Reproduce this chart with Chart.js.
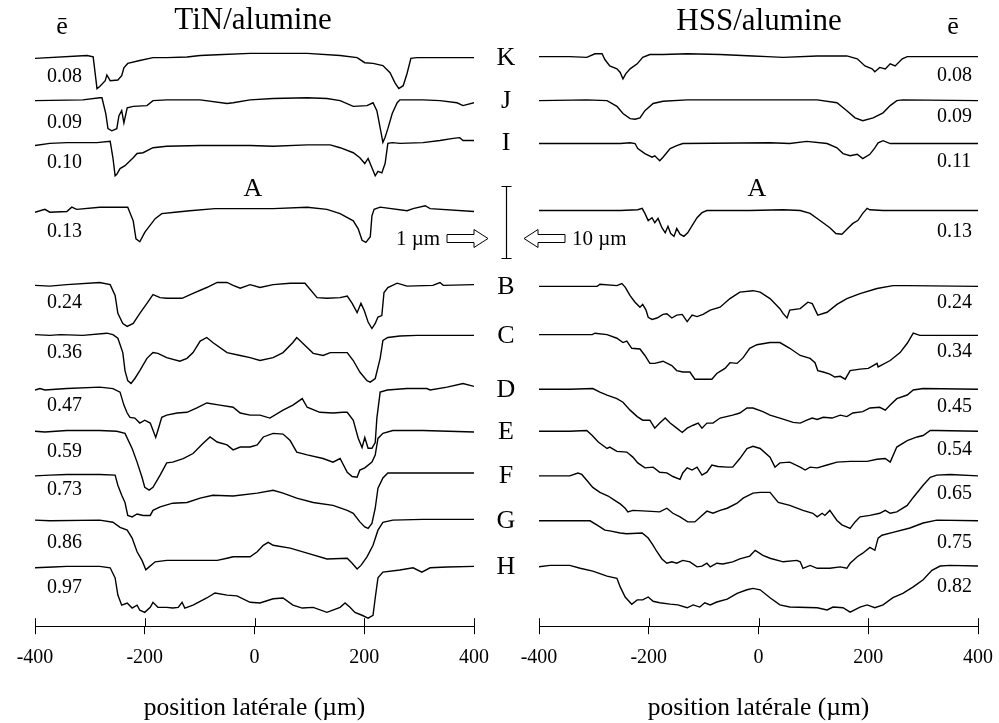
<!DOCTYPE html>
<html><head><meta charset="utf-8">
<script src="https://cdn.jsdelivr.net/npm/chart.js@4/dist/chart.umd.min.js"></script>
<style>
html,body{margin:0;padding:0;background:#fff;}
#wrap{position:relative;width:999px;height:723px;overflow:hidden;font-family:"Liberation Serif","Times New Roman",serif;color:#000;}
canvas{position:absolute;left:0;top:0;}
.t{position:absolute;white-space:nowrap;line-height:1;}
.c{transform:translateX(-50%);}
.n{font-size:20px;}
.L{font-size:26px;}
</style></head>
<body><div id="wrap">
<canvas id="cl" width="999" height="723"></canvas>
<canvas id="cr" width="999" height="723"></canvas>

<div class="t c" style="left:62px;top:13px;font-size:26px;">ē</div>
<div class="t c" style="left:953px;top:13px;font-size:26px;">ē</div>
<div class="t c" style="left:253px;top:3px;font-size:31px;">TiN/alumine</div>
<div class="t c" style="left:759px;top:4px;font-size:31px;">HSS/alumine</div>
<div class="t c" style="left:253px;top:175px;font-size:26px;">A</div>
<div class="t c" style="left:757px;top:175px;font-size:26px;">A</div>
<div class="t" style="left:396px;top:228px;font-size:21px;">1 µm</div>
<div class="t" style="left:572px;top:228px;font-size:21px;">10 µm</div>
<div id="letters"></div>
<div id="numsL"></div>
<div id="numsR"></div>
</div>
<script>
// ---- trace labels and mean values (ē) ----
const traceNames = ['K','J','I','A','B','C','D','E','F','G','H'];
const eLeft  = ['0.08','0.09','0.10','0.13','0.24','0.36','0.47','0.59','0.73','0.86','0.97'];
const eRight = ['0.08','0.09','0.11','0.13','0.24','0.34','0.45','0.54','0.65','0.75','0.82'];
const xTicks = [-400,-200,0,200,400];

// vertical shift applied to each profile (µm; left scale 1 µm bar, right scale 10 µm bar)
const LEFT_OFFSETS_UM  = [-0.792,-1.389,-2.014,-2.931,-3.958,-4.653,-5.403,-5.986,-6.597,-7.222,-7.875];
const RIGHT_OFFSETS_UM = [-7.78,-13.89,-19.86,-29.17,-39.72,-46.53,-54.03,-59.86,-65.97,-72.22,-78.61];

// ---- TiN/alumine profiles: [lateral position µm, height µm] ----
const leftK = [[-400,-0.01],[-305,0.03],[-294,0.01],[-287,-0.43],[-282,-0.40],[-272,-0.32],[-269,-0.24],[-263,-0.32],[-249,-0.31],[-242,-0.25],[-238,-0.14],[-231,-0.08],[-209,-0.04],[-185,0],[-160,0],[-123,0.01],[-99,0.03],[-68,0.04],[-8,0.06],[34,0.06],[96,0.06],[156,0.03],[187,0],[201,-0.07],[216,-0.08],[234,-0.11],[247,-0.21],[256,-0.35],[263,-0.43],[271,-0.39],[278,-0.22],[285,-0.01],[296,0],[338,0],[369,0],[400,0]];
const leftJ = [[-400,0],[-313,0.01],[-282,0.04],[-278,0.04],[-271,-0.18],[-267,-0.39],[-260,-0.42],[-251,-0.39],[-247,-0.21],[-242,-0.14],[-238,-0.31],[-232,-0.10],[-221,-0.08],[-196,-0.07],[-185,0],[-160,0.01],[-99,0.01],[-50,-0.04],[-39,-0.03],[-8,0.01],[34,0.03],[96,0.04],[132,0.03],[156,0],[180,-0.08],[205,-0.07],[216,-0.03],[223,-0.14],[229,-0.38],[234,-0.58],[238,-0.51],[243,-0.39],[251,-0.18],[260,-0.03],[265,0.01],[307,0.01],[338,0],[369,-0.03],[380,-0.07],[400,-0.03]];
const leftI = [[-400,0],[-373,0.03],[-342,0.04],[-287,0.04],[-263,0.06],[-258,-0.17],[-254,-0.42],[-251,-0.40],[-245,-0.32],[-236,-0.28],[-221,-0.17],[-214,-0.11],[-203,-0.10],[-185,-0.03],[-160,-0.01],[-99,0],[-8,0],[34,-0.01],[96,0.01],[138,0.01],[156,-0.03],[180,-0.10],[192,-0.17],[201,-0.25],[207,-0.18],[214,-0.31],[220,-0.42],[225,-0.36],[232,-0.38],[238,-0.25],[243,0.03],[251,0.04],[265,0.03],[307,0.04],[338,0.07],[362,0.10],[374,0.11],[380,0.07],[400,0.07]];
const leftA = [[-400,-0.01],[-382,0.03],[-373,-0.01],[-342,0],[-333,0.06],[-324,0.03],[-282,0.06],[-231,0.06],[-221,-0.13],[-216,-0.38],[-209,-0.42],[-200,-0.29],[-190,-0.19],[-181,-0.10],[-169,-0.03],[-145,-0.01],[-118,0.01],[-72,0.04],[-8,0.04],[34,0.04],[96,0.06],[132,0.03],[156,-0.03],[180,-0.13],[189,-0.24],[196,-0.40],[203,-0.43],[211,-0.35],[214,-0.06],[218,0.03],[229,0.06],[278,0.01],[289,0.04],[311,0.08],[320,0.04],[400,0]];
const leftB = [[-400,0],[-373,-0.01],[-342,0.01],[-282,0.04],[-263,0.01],[-254,-0.14],[-249,-0.39],[-240,-0.53],[-232,-0.57],[-221,-0.53],[-209,-0.39],[-196,-0.25],[-185,-0.13],[-172,-0.17],[-160,-0.18],[-132,-0.18],[-112,-0.11],[-87,-0.03],[-68,0.04],[-50,0.04],[-39,0],[-26,-0.04],[-8,0.01],[10,-0.03],[34,0.01],[65,0.03],[92,0.03],[114,-0.17],[132,-0.18],[156,-0.17],[169,-0.15],[178,-0.25],[187,-0.38],[194,-0.25],[200,-0.35],[207,-0.51],[214,-0.60],[220,-0.53],[225,-0.44],[232,-0.42],[236,-0.10],[243,-0.03],[260,0.03],[278,-0.01],[325,0],[338,0.04],[344,0],[400,0.01]];
const leftC = [[-400,0.01],[-373,0],[-354,0.01],[-313,0],[-269,0.03],[-258,0.01],[-249,-0.04],[-240,-0.24],[-236,-0.49],[-231,-0.63],[-225,-0.67],[-218,-0.60],[-209,-0.49],[-196,-0.32],[-185,-0.24],[-176,-0.25],[-160,-0.31],[-136,-0.36],[-123,-0.32],[-112,-0.24],[-99,-0.08],[-87,-0.03],[-76,-0.10],[-50,-0.24],[-26,-0.28],[-8,-0.31],[10,-0.35],[34,-0.31],[52,-0.24],[70,-0.10],[77,-0.03],[96,-0.17],[107,-0.25],[125,-0.28],[138,-0.24],[169,-0.24],[180,-0.35],[192,-0.51],[205,-0.63],[211,-0.65],[220,-0.60],[229,-0.32],[234,-0.07],[243,-0.03],[265,-0.01],[296,0],[400,0]];
const leftD = [[-400,-0.01],[-391,0.01],[-382,-0.01],[-342,0.01],[-282,0.03],[-258,0.01],[-245,-0.04],[-238,-0.22],[-232,-0.33],[-227,-0.39],[-218,-0.40],[-209,-0.47],[-200,-0.43],[-190,-0.47],[-180,-0.67],[-176,-0.57],[-169,-0.39],[-160,-0.36],[-141,-0.33],[-123,-0.32],[-105,-0.26],[-87,-0.19],[-63,-0.22],[-39,-0.25],[-26,-0.33],[-8,-0.36],[10,-0.36],[28,-0.40],[52,-0.29],[70,-0.22],[87,-0.13],[96,-0.25],[119,-0.32],[143,-0.33],[161,-0.32],[169,-0.32],[180,-0.43],[189,-0.68],[196,-0.81],[201,-0.67],[207,-0.82],[214,-0.82],[220,-0.74],[223,-0.40],[229,-0.04],[242,-0.01],[278,0.01],[314,0.01],[320,-0.01],[351,0.03],[380,0.08],[400,0.04]];
const leftE = [[-400,0],[-382,-0.01],[-342,0.01],[-282,0.01],[-251,0],[-236,-0.03],[-223,-0.24],[-214,-0.43],[-205,-0.64],[-200,-0.78],[-192,-0.82],[-185,-0.78],[-172,-0.61],[-160,-0.44],[-149,-0.43],[-130,-0.38],[-112,-0.31],[-94,-0.17],[-81,-0.08],[-68,-0.15],[-50,-0.19],[-39,-0.26],[-26,-0.22],[-8,-0.22],[5,-0.19],[16,-0.08],[34,-0.03],[52,-0.04],[65,-0.13],[77,-0.29],[96,-0.33],[125,-0.38],[143,-0.43],[156,-0.38],[169,-0.57],[178,-0.63],[187,-0.64],[192,-0.54],[201,-0.51],[214,-0.43],[220,-0.33],[225,-0.10],[234,-0.03],[252,0.01],[307,0.01],[400,-0.01]];
const leftF = [[-400,-0.01],[-373,0],[-342,0.01],[-282,0.01],[-254,0],[-249,-0.14],[-242,-0.28],[-236,-0.38],[-231,-0.56],[-223,-0.58],[-214,-0.54],[-203,-0.56],[-190,-0.56],[-185,-0.49],[-172,-0.44],[-149,-0.39],[-123,-0.38],[-99,-0.32],[-76,-0.28],[-39,-0.29],[5,-0.25],[34,-0.21],[52,-0.25],[77,-0.32],[107,-0.38],[143,-0.42],[169,-0.49],[180,-0.53],[192,-0.65],[201,-0.72],[207,-0.74],[214,-0.67],[220,-0.46],[225,-0.18],[234,-0.04],[243,0.03],[400,0.03]];
const leftG = [[-400,0],[-373,-0.01],[-282,0],[-258,-0.03],[-245,-0.10],[-232,-0.14],[-223,-0.25],[-214,-0.44],[-205,-0.56],[-198,-0.69],[-192,-0.65],[-181,-0.58],[-160,-0.56],[-130,-0.56],[-68,-0.56],[-50,-0.53],[-39,-0.51],[-8,-0.51],[5,-0.44],[16,-0.35],[25,-0.31],[34,-0.35],[65,-0.39],[96,-0.46],[132,-0.54],[169,-0.53],[178,-0.60],[187,-0.68],[194,-0.63],[205,-0.51],[216,-0.35],[225,-0.14],[234,-0.03],[252,0],[307,0.01],[400,0.01]];
const leftH = [[-400,-0.01],[-367,0],[-342,0.01],[-282,0.01],[-263,-0.01],[-254,-0.15],[-249,-0.39],[-242,-0.53],[-232,-0.50],[-223,-0.57],[-214,-0.53],[-209,-0.60],[-200,-0.63],[-190,-0.56],[-185,-0.49],[-176,-0.56],[-160,-0.56],[-149,-0.57],[-139,-0.56],[-132,-0.49],[-127,-0.57],[-112,-0.53],[-87,-0.43],[-72,-0.36],[-50,-0.39],[-32,-0.40],[-8,-0.49],[10,-0.50],[34,-0.44],[52,-0.43],[70,-0.53],[87,-0.57],[107,-0.56],[132,-0.63],[156,-0.56],[165,-0.50],[174,-0.56],[183,-0.63],[196,-0.67],[207,-0.71],[216,-0.67],[220,-0.43],[225,-0.15],[234,-0.07],[265,-0.04],[289,-0.01],[305,-0.07],[320,-0.01],[351,0],[400,0.01]];

// ---- HSS/alumine profiles: [lateral position µm, height µm] ----
const rightK = [[-400,0],[-344,0],[-313,-0.1],[-298,0.4],[-285,0.4],[-280,-0.4],[-271,-1.3],[-258,-1.7],[-252,-2.2],[-247,-3.1],[-242,-2.4],[-234,-1.7],[-221,-1.0],[-211,-0.1],[-198,0.3],[-174,0.3],[-130,0.4],[-70,0.3],[-10,0.1],[16,0],[45,-0.1],[107,0.1],[161,0.1],[180,-0.3],[194,-1.3],[207,-1.7],[212,-2.1],[221,-1.5],[231,-1.7],[240,-1.0],[249,-1.3],[262,-0.3],[271,0],[400,0]];
const rightJ = [[-400,0],[-313,0.1],[-276,0],[-258,-0.8],[-247,-1.8],[-234,-2.5],[-225,-2.6],[-216,-2.4],[-207,-1.4],[-192,-0.4],[-174,-0.1],[-130,0.1],[-70,0.1],[107,0.1],[143,-0.3],[161,-1.4],[176,-2.4],[190,-2.8],[209,-2.4],[227,-1.7],[240,-0.7],[252,0],[263,0.1],[400,0]];
const rightI = [[-400,0],[-252,0],[-234,0.1],[-225,0],[-220,-0.7],[-207,-1.4],[-194,-1.9],[-189,-1.7],[-180,-2.4],[-174,-1.9],[-161,-0.7],[-149,-0.3],[-138,0],[21,0.1],[57,0],[88,0.3],[125,0],[143,-0.6],[154,-1.4],[167,-1.7],[180,-1.5],[190,-2.1],[203,-1.5],[212,-0.6],[218,0.1],[227,0.4],[240,0],[400,0]];
const rightA = [[-400,0],[-252,0],[-220,0.1],[-212,0.3],[-207,-0.4],[-201,-1.4],[-194,-1.0],[-189,-1.7],[-183,-1.1],[-176,-2.4],[-170,-3.1],[-165,-2.2],[-160,-3.2],[-154,-3.6],[-149,-2.5],[-143,-3.3],[-136,-3.6],[-129,-3.1],[-121,-2.1],[-112,-1.0],[-103,-0.3],[-94,0],[-16,0],[45,0.1],[76,0],[94,-0.4],[112,-1.4],[130,-2.4],[141,-3.2],[152,-3.3],[161,-2.6],[172,-1.8],[181,-1.4],[190,-0.4],[198,0.3],[203,0.1],[227,0],[400,0]];
const rightB = [[-400,0],[-294,0],[-289,0.3],[-258,0.1],[-249,0.4],[-243,-0.1],[-234,-1.3],[-225,-2.2],[-216,-2.9],[-211,-2.5],[-205,-3.3],[-201,-4.3],[-194,-4.6],[-185,-4.4],[-174,-3.9],[-167,-3.8],[-158,-4.4],[-149,-4.0],[-139,-3.9],[-130,-4.9],[-121,-4.0],[-112,-4.2],[-101,-3.9],[-88,-3.3],[-70,-2.9],[-52,-1.7],[-34,-0.8],[-10,-0.6],[3,-0.8],[21,-1.7],[39,-3.1],[45,-3.8],[52,-4.4],[57,-3.3],[76,-3.1],[90,-2.2],[98,-2.4],[108,-4.0],[125,-3.6],[143,-2.5],[161,-1.7],[185,-1.0],[216,-0.3],[245,0.1],[271,0.1],[400,0]];
const rightC = [[-400,0.1],[-303,0.1],[-298,0.3],[-276,0.1],[-258,-0.4],[-247,-1.0],[-240,-0.8],[-231,-1.8],[-216,-1.9],[-207,-2.8],[-198,-3.9],[-189,-3.9],[-174,-3.6],[-158,-4.2],[-149,-4.9],[-138,-5.1],[-125,-5.1],[-116,-6.1],[-85,-6.1],[-76,-5.3],[-70,-5.0],[-61,-4.6],[-52,-3.8],[-39,-3.9],[-28,-3.1],[-16,-1.8],[-3,-1.3],[21,-1.0],[39,-1.0],[57,-1.8],[76,-2.8],[94,-3.2],[103,-3.8],[108,-4.9],[118,-5.1],[130,-5.4],[139,-5.8],[149,-5.7],[158,-6.1],[167,-4.9],[185,-4.7],[200,-4.6],[209,-4.2],[216,-3.9],[218,-4.4],[240,-3.5],[258,-2.4],[271,-1.1],[282,0.3],[294,0],[400,0]];
const rightD = [[-400,0],[-344,0],[-302,0.1],[-289,-0.4],[-276,-0.8],[-258,-1.3],[-247,-1.8],[-234,-2.9],[-221,-3.8],[-211,-4.3],[-198,-4.3],[-189,-5.4],[-180,-4.7],[-170,-4.0],[-161,-4.7],[-149,-5.4],[-139,-6.0],[-130,-5.4],[-119,-5.0],[-110,-4.7],[-103,-5.4],[-94,-4.7],[-83,-4.7],[-70,-4.0],[-47,-3.6],[-34,-3.3],[-21,-2.6],[-10,-2.6],[8,-3.1],[21,-3.6],[39,-4.0],[63,-4.6],[76,-4.7],[88,-4.3],[98,-4.0],[107,-4.2],[118,-3.9],[134,-4.0],[149,-3.6],[161,-3.8],[172,-3.3],[190,-3.1],[203,-2.6],[221,-2.5],[231,-2.9],[240,-2.2],[252,-1.3],[271,-0.8],[282,-0.1],[300,0.1],[400,0]];
const rightE = [[-400,0],[-344,0],[-313,0.1],[-303,-0.6],[-292,-1.5],[-276,-2.4],[-271,-2.2],[-258,-2.8],[-240,-2.9],[-229,-3.6],[-220,-4.4],[-207,-5.1],[-192,-5.0],[-180,-5.7],[-167,-5.8],[-156,-6.3],[-143,-6.7],[-138,-5.8],[-130,-5.1],[-121,-5.4],[-112,-5.0],[-103,-6.1],[-94,-5.7],[-85,-4.7],[-74,-4.9],[-57,-5.0],[-47,-5.0],[-34,-3.8],[-21,-2.4],[-10,-2.1],[3,-2.4],[21,-3.6],[30,-5.0],[39,-4.4],[57,-4.3],[76,-5.0],[85,-5.4],[94,-5.0],[107,-5.1],[125,-4.7],[143,-4.3],[167,-4.2],[198,-4.2],[216,-3.9],[231,-3.8],[240,-4.3],[252,-2.2],[271,-1.3],[289,-0.8],[300,-0.6],[313,0.1],[325,0.1],[400,0]];
const rightF = [[-400,-0.1],[-344,-0.1],[-329,0.3],[-322,0.1],[-313,-0.7],[-302,-1.7],[-289,-2.4],[-274,-2.9],[-262,-3.5],[-252,-4.0],[-243,-4.6],[-238,-5.1],[-229,-4.9],[-203,-5.0],[-180,-5.1],[-167,-4.6],[-156,-5.3],[-143,-5.8],[-129,-6.5],[-116,-6.5],[-103,-5.6],[-94,-5.0],[-83,-5.3],[-70,-4.9],[-57,-4.6],[-39,-3.9],[-28,-3.2],[-10,-2.5],[3,-2.4],[21,-2.4],[36,-3.8],[57,-4.2],[81,-4.9],[99,-5.3],[107,-5.8],[116,-5.3],[121,-5.6],[130,-4.9],[143,-6.3],[152,-6.9],[167,-7.4],[176,-6.5],[185,-5.8],[203,-5.6],[221,-5.3],[231,-4.9],[240,-5.3],[252,-5.1],[271,-4.2],[282,-3.1],[300,-1.4],[313,-0.3],[325,0],[349,0.1],[400,-0.1]];
const rightG = [[-400,-0.1],[-307,-0.1],[-294,-0.7],[-280,-1.4],[-271,-1.5],[-252,-1.8],[-240,-1.9],[-212,-1.8],[-201,-2.5],[-192,-3.5],[-185,-4.4],[-176,-5.4],[-167,-6.0],[-158,-5.8],[-149,-6.0],[-138,-5.6],[-125,-5.8],[-112,-6.5],[-103,-6.4],[-94,-6.0],[-88,-6.5],[-76,-6.0],[-65,-6.1],[-47,-5.8],[-34,-5.4],[-16,-5.0],[-6,-4.2],[8,-4.9],[21,-5.3],[45,-5.8],[70,-5.6],[76,-5.8],[81,-6.7],[94,-6.3],[107,-6.7],[130,-6.7],[149,-6.5],[161,-6.7],[167,-6.0],[180,-5.1],[190,-4.6],[203,-3.8],[212,-4.2],[218,-2.5],[225,-2.1],[245,-1.7],[276,-1.1],[300,-0.4],[325,0],[400,-0.1]];
const rightH = [[-400,-0.1],[-380,0.1],[-344,0.1],[-325,-0.3],[-302,-0.7],[-276,-1.4],[-258,-1.7],[-252,-2.9],[-243,-4.3],[-231,-5.3],[-221,-4.7],[-211,-4.7],[-201,-4.3],[-192,-4.9],[-180,-5.1],[-161,-5.3],[-147,-5.4],[-130,-5.8],[-119,-5.4],[-107,-5.7],[-98,-5.1],[-88,-5.4],[-76,-5.0],[-57,-4.6],[-39,-3.8],[-21,-3.3],[-10,-3.1],[3,-3.3],[21,-4.4],[39,-5.4],[57,-5.7],[107,-5.8],[125,-6.1],[136,-5.7],[154,-5.8],[167,-6.4],[185,-5.7],[198,-5.4],[212,-5.8],[227,-5.4],[245,-4.4],[263,-3.8],[282,-2.9],[300,-1.9],[316,-0.6],[331,0],[349,0.1],[400,0]];

const leftProfiles  = [leftK,leftJ,leftI,leftA,leftB,leftC,leftD,leftE,leftF,leftG,leftH];
const rightProfiles = [rightK,rightJ,rightI,rightA,rightB,rightC,rightD,rightE,rightF,rightG,rightH];

// ---------- text labels ----------
const FONT = '"Liberation Serif","Times New Roman",serif';
const letterTops = [44,87,129,null,273,322,376,418,462,507,553];
const numLTops = [65,111,151,220,291,341,394,440,478,531,576];
const numRTops = [64,105,150,220,291,340,395,438,482,531,575];
const lettersDiv = document.getElementById('letters');
traceNames.forEach((n,i)=>{ if(letterTops[i]===null) return;
  const d=document.createElement('div'); d.className='t c L'; d.style.left='506px'; d.style.top=letterTops[i]+'px'; d.textContent=n; lettersDiv.appendChild(d);});
eLeft.forEach((v,i)=>{const d=document.createElement('div'); d.className='t n'; d.style.left='47px'; d.style.top=numLTops[i]+'px'; d.textContent=v; document.getElementById('numsL').appendChild(d);});
eRight.forEach((v,i)=>{const d=document.createElement('div'); d.className='t n'; d.style.left='937px'; d.style.top=numRTops[i]+'px'; d.textContent=v; document.getElementById('numsR').appendChild(d);});

// ---------- plugins ----------
const crossTicks = { id:'crossTicks', afterDraw(chart){
  const {ctx, scales:{x}, chartArea} = chart;
  ctx.save(); ctx.strokeStyle='#000'; ctx.lineWidth=1;
  x.ticks.forEach(t=>{ const px=Math.round(x.getPixelForValue(t.value))+0.5;
    ctx.beginPath(); ctx.moveTo(px, chartArea.bottom-8); ctx.lineTo(px, chartArea.bottom); ctx.stroke(); });
  ctx.restore(); } };

function arrow(ctx, xTail, xHead, y){
  const dir = Math.sign(xHead-xTail), hl=14, sh=4, hh=9;
  const xb = xHead - dir*hl;
  ctx.beginPath();
  ctx.moveTo(xTail, y-sh); ctx.lineTo(xb, y-sh); ctx.lineTo(xb, y-hh); ctx.lineTo(xHead, y);
  ctx.lineTo(xb, y+hh); ctx.lineTo(xb, y+sh); ctx.lineTo(xTail, y+sh); ctx.closePath();
  ctx.fillStyle='#fff'; ctx.fill(); ctx.stroke();
}
const SCALE_BAR_TOP_UM = -2.583; // top of the 1 µm (left) / 10 µm (right) scale bar
const scaleBar = { id:'scaleBar', afterDraw(chart){
  const {ctx, scales:{y}} = chart;
  const t=Math.round(y.getPixelForValue(SCALE_BAR_TOP_UM))+0.5, b=Math.round(y.getPixelForValue(SCALE_BAR_TOP_UM-1))+0.5;
  const xc=506.5;
  ctx.save(); ctx.strokeStyle='#000'; ctx.lineWidth=1.2;
  ctx.beginPath(); ctx.moveTo(xc,t); ctx.lineTo(xc,b); ctx.moveTo(xc-5,t); ctx.lineTo(xc+5,t); ctx.moveTo(xc-5,b); ctx.lineTo(xc+5,b); ctx.stroke();
  ctx.lineWidth=1;
  arrow(ctx, 447, 488, 238.5);
  arrow(ctx, 565, 524, 238.5);
  ctx.restore(); } };

function makeChart(id, profiles, offsets, umPerPx, padL, padR, extra){
  const datasets = profiles.map((p,i)=>({
    label: traceNames[i],
    data: p.map(([x,h])=>({x, y: offsets[i]+h})),
    borderColor:'#000', borderWidth:1.4, pointRadius:0, tension:0, fill:false
  }));
  const chart = new Chart(document.getElementById(id), {
    type:'line',
    data:{datasets},
    options:{
      responsive:false, animation:false, devicePixelRatio:1,
      layout:{padding:{left:padL,right:padR,top:0,bottom:0}},
      plugins:{legend:{display:false}, tooltip:{enabled:false}},
      scales:{
        x:{type:'linear', min:-400, max:400,
           afterBuildTicks(s){ s.ticks = xTicks.map(v=>({value:v})); },
           ticks:{ color:'#000', font:{family:FONT,size:20,lineHeight:2}, padding:4, maxRotation:0, autoSkip:false, callback:v=>String(v)},
           grid:{ drawOnChartArea:false, drawTicks:true, tickLength:8, tickColor:'#000', tickWidth:1 },
           border:{ display:true, color:'#000', width:1 },
           title:{ display:true, text:'position latérale (µm)', color:'#000', font:{family:FONT,size:25.5,lineHeight:1.13}, padding:{top:12,bottom:0}}
        },
        y:{ type:'linear', display:false, min:-8.75*umPerPx*72, max:0 }
      }
    },
    plugins: extra
  });
  // keep the vertical scale exact: 72 px per scale-bar unit
  const h = chart.chartArea.bottom - chart.chartArea.top;
  chart.options.scales.y.min = -h*umPerPx;
  chart.update();
  return chart;
}
makeChart('cl', leftProfiles, LEFT_OFFSETS_UM, 1/72, 35, 525, [crossTicks, scaleBar]);
makeChart('cr', rightProfiles, RIGHT_OFFSETS_UM, 10/72, 539, 21, [crossTicks]);
</script>
</body></html>
